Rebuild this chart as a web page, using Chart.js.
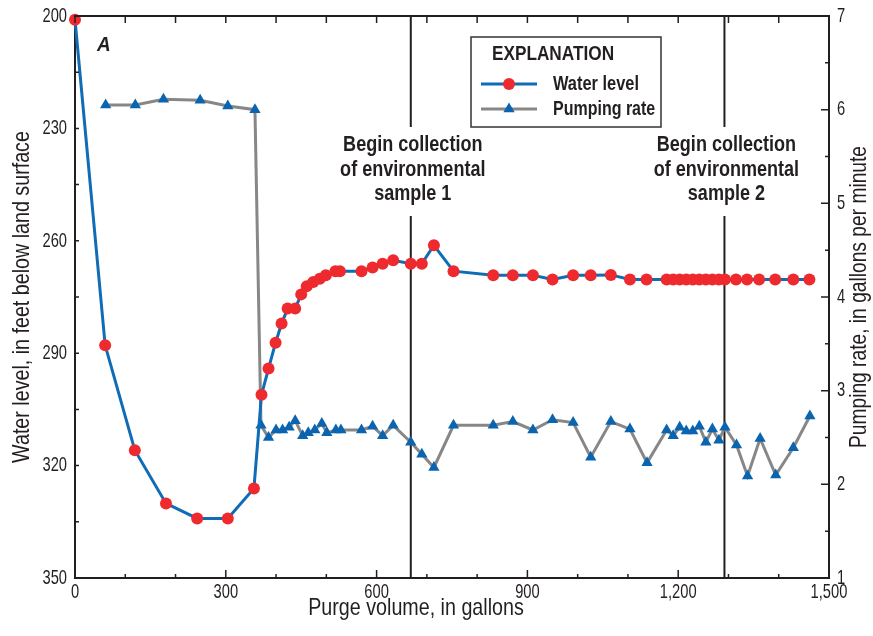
<!DOCTYPE html>
<html>
<head>
<meta charset="utf-8">
<script src="https://cdn.jsdelivr.net/npm/chart.js@4.4.0/dist/chart.umd.min.js"></script>
<style>
  body { margin: 0; background: #fff; }
  #wrap { width: 873px; height: 636px; position: relative; }
</style>
</head>
<body>
<div id="wrap"><canvas id="myChart"></canvas></div>
<script>
// purge volume (gallons) and water level (feet below land surface)
var waterGal = [0, 60, 119, 181, 243, 304, 356,
  371, 385, 399, 411, 423, 438, 450, 461, 474, 487, 499, 518, 527,
  570, 592, 612, 633, 668, 690, 714, 753,
  832, 871, 911, 950, 991, 1026, 1066, 1104, 1137,
  1177, 1190, 1203, 1216, 1229, 1242, 1255, 1268, 1281, 1293,
  1315, 1337, 1361, 1393, 1429, 1461];
var waterLevel = [201, 287.9, 315.9, 330.1, 334.1, 334.1, 326.1,
  301.1, 294.1, 287.2, 282.1, 278.1, 278.1, 274.3, 272.1, 271.0, 270.1, 269.2, 268.1, 268.1,
  268.1, 267.1, 266.1, 265.2, 266.1, 266.1, 261.2, 268.1,
  269.2, 269.2, 269.2, 270.3, 269.2, 269.2, 269.1, 270.3, 270.3,
  270.3, 270.3, 270.3, 270.3, 270.3, 270.3, 270.3, 270.3, 270.3, 270.3,
  270.3, 270.3, 270.3, 270.3, 270.3, 270.3];

// purge volume (gallons) and pumping rate (gallons per minute)
var pumpGal = [61, 120, 176, 249, 304, 358,
  370, 385, 400, 413, 426, 438, 453, 464, 477, 491, 501, 519, 529,
  570, 592, 612, 633, 668, 690, 714, 753,
  832, 871, 911, 950, 991, 1026, 1066, 1104, 1138,
  1177, 1190, 1203, 1216, 1229, 1242, 1255, 1268, 1281, 1293,
  1316, 1338, 1363, 1394, 1429, 1462];
var pumpRate = [6.05, 6.05, 6.11, 6.10, 6.04, 6.00,
  2.63, 2.50, 2.58, 2.58, 2.61, 2.68, 2.52, 2.55, 2.58, 2.65, 2.55, 2.58, 2.58,
  2.58, 2.62, 2.52, 2.63, 2.45, 2.32, 2.18, 2.63,
  2.63, 2.67, 2.58, 2.69, 2.66, 2.29, 2.67, 2.59, 2.23,
  2.58, 2.52, 2.61, 2.57, 2.57, 2.62, 2.45, 2.59, 2.47, 2.61,
  2.42, 2.09, 2.49, 2.10, 2.39, 2.73];

// axis tick values (labels are formatted from these)
var galTicks = [0, 300, 600, 900, 1200, 1500];
var levelTicks = [200, 230, 260, 290, 320, 350];
var rateTicks = [1, 2, 3, 4, 5, 6, 7];

// sample collection markers
var sampleGal = [668, 1292];
var sampleText = [
  ['Begin collection', 'of environmental', 'sample 1'],
  ['Begin collection', 'of environmental', 'sample 2']
];

var ink = '#231f20';
var lineBlue = '#0f6cb6';
var dotRed = '#ee2a2e';
var triBlue = '#0a64b0';
var gray = '#878787';
var sans = '"Liberation Sans", Arial, sans-serif';

// fake a condensed face by squeezing the text horizontally
function condText(ctx, text, x, y, sx) {
  ctx.save();
  ctx.translate(x, y);
  ctx.scale(sx, 1);
  ctx.fillText(text, 0, 0);
  ctx.restore();
}

function triangle(ctx, x, y, r) {
  ctx.beginPath();
  ctx.moveTo(x, y - r);
  ctx.lineTo(x + r * Math.sqrt(3) / 2, y + r / 2);
  ctx.lineTo(x - r * Math.sqrt(3) / 2, y + r / 2);
  ctx.closePath();
  ctx.fill();
}

var decor = {
  id: 'decor',
  beforeDatasetsDraw: function (chart) {
    var ctx = chart.ctx, a = chart.chartArea;
    ctx.save();
    ctx.strokeStyle = ink;
    ctx.lineWidth = 2;
    sampleGal.forEach(function (g) {
      var x = chart.scales.x.getPixelForValue(g);
      ctx.beginPath();
      ctx.moveTo(x, a.top); ctx.lineTo(x, 127);
      ctx.moveTo(x, 216); ctx.lineTo(x, a.bottom);
      ctx.stroke();
    });
    ctx.restore();
  },
  afterDraw: function (chart) {
    var ctx = chart.ctx, a = chart.chartArea, s = chart.scales;
    ctx.save();
    ctx.strokeStyle = ink;
    ctx.fillStyle = ink;

    // frame top
    ctx.lineWidth = 2;
    ctx.beginPath();
    ctx.moveTo(a.left - 1, a.top); ctx.lineTo(a.right + 1, a.top);
    ctx.stroke();

    // inward ticks
    ctx.lineWidth = 1.5;
    ctx.beginPath();
    for (var v = 0; v <= 1500; v += 100) {
      var x = s.x.getPixelForValue(v);
      var len = v % 300 === 0 ? 8 : 4;
      ctx.moveTo(x, a.bottom); ctx.lineTo(x, a.bottom - len);
      ctx.moveTo(x, a.top); ctx.lineTo(x, a.top + 7);
    }
    for (var w = 200; w <= 350; w += 15) {
      var y = s.y.getPixelForValue(w);
      ctx.moveTo(a.left, y); ctx.lineTo(a.left + (w % 30 === 0 ? 8 : 4), y);
    }
    for (var r = 1; r <= 7; r += 0.5) {
      var y2 = s.y2.getPixelForValue(r);
      ctx.moveTo(a.right, y2); ctx.lineTo(a.right - (r % 1 === 0 ? 8 : 4), y2);
    }
    ctx.stroke();

    // tick labels
    ctx.font = '21px ' + sans;
    ctx.textBaseline = 'middle';
    ctx.textAlign = 'center';
    galTicks.forEach(function (g) {
      condText(ctx, g.toLocaleString('en-US'), s.x.getPixelForValue(g), a.bottom + 14, 0.7);
    });
    ctx.textAlign = 'right';
    levelTicks.forEach(function (l) {
      condText(ctx, String(l), a.left - 8, s.y.getPixelForValue(l), 0.7);
    });
    ctx.textAlign = 'left';
    rateTicks.forEach(function (q) {
      condText(ctx, String(q), a.right + 8, s.y2.getPixelForValue(q), 0.7);
    });

    // annotations
    ctx.textAlign = 'center';
    ctx.font = 'bold 22px ' + sans;
    sampleGal.forEach(function (g, i) {
      var x = s.x.getPixelForValue(g) + 2;
      sampleText[i].forEach(function (t, k) {
        condText(ctx, t, x, 145 + k * 24.5, 0.82);
      });
    });

    // panel letter
    ctx.textAlign = 'left';
    ctx.font = 'italic bold 21px ' + sans;
    condText(ctx, 'A', 97, 45, 0.9);

    // axis titles
    ctx.font = '24px ' + sans;
    ctx.textAlign = 'center';
    condText(ctx, 'Purge volume, in gallons', 416, 608, 0.82);
    ctx.save();
    ctx.translate(22, (a.top + a.bottom) / 2);
    ctx.rotate(-Math.PI / 2);
    condText(ctx, 'Water level, in feet below land surface', 0, 0, 0.82);
    ctx.restore();
    ctx.save();
    ctx.translate(859, (a.top + a.bottom) / 2);
    ctx.rotate(-Math.PI / 2);
    condText(ctx, 'Pumping rate, in gallons per minute', 0, 0, 0.8);
    ctx.restore();

    // explanation box
    ctx.fillStyle = '#fff';
    ctx.fillRect(471, 37, 190, 90);
    ctx.strokeStyle = '#333';
    ctx.lineWidth = 1.5;
    ctx.strokeRect(471, 37, 190, 90);
    ctx.fillStyle = ink;
    ctx.font = 'bold 21px ' + sans;
    condText(ctx, 'EXPLANATION', 553, 54, 0.82);
    ctx.lineWidth = 3;
    ctx.strokeStyle = lineBlue;
    ctx.beginPath(); ctx.moveTo(481, 84); ctx.lineTo(537, 84); ctx.stroke();
    ctx.fillStyle = dotRed;
    ctx.beginPath(); ctx.arc(509, 84, 6, 0, Math.PI * 2); ctx.fill();
    ctx.strokeStyle = gray;
    ctx.beginPath(); ctx.moveTo(481, 109); ctx.lineTo(537, 109); ctx.stroke();
    ctx.fillStyle = triBlue;
    triangle(ctx, 509, 109, 6.5);
    ctx.fillStyle = ink;
    ctx.textAlign = 'left';
    ctx.font = 'bold 20px ' + sans;
    condText(ctx, 'Water level', 553, 84, 0.82);
    condText(ctx, 'Pumping rate', 553, 109, 0.8);

    ctx.restore();
  }
};

var ctx = document.getElementById('myChart').getContext('2d');
var chart = new Chart(ctx, {
  type: 'line',
  data: {
    datasets: [{
      label: 'Water level',
      data: waterGal.map(function (g, i) { return {x: g, y: waterLevel[i]}; }),
      yAxisID: 'y',
      clip: false,
      borderColor: lineBlue,
      borderWidth: 3,
      pointStyle: 'circle',
      pointRadius: 6,
      pointBorderWidth: 0,
      pointBackgroundColor: dotRed,
      tension: 0
    }, {
      label: 'Pumping rate',
      data: pumpGal.map(function (g, i) { return {x: g, y: pumpRate[i]}; }),
      yAxisID: 'y2',
      borderColor: gray,
      borderWidth: 3,
      pointStyle: 'triangle',
      pointRadius: 6.5,
      pointBorderWidth: 0,
      pointBackgroundColor: triBlue,
      tension: 0
    }]
  },
  options: {
    responsive: true,
    maintainAspectRatio: false,
    animation: false,
    layout: { padding: { top: 16, left: 0, right: 0, bottom: 0 } },
    plugins: { legend: { display: false }, tooltip: { enabled: false } },
    scales: {
      x: {
        type: 'linear', position: 'bottom',
        min: galTicks[0], max: galTicks[galTicks.length - 1],
        grid: { display: false },
        border: { display: true, color: ink, width: 2 },
        ticks: { display: false, stepSize: 300 },
        afterFit: function (scale) { scale.height = 58; }
      },
      y: {
        type: 'linear', position: 'left', reverse: true,
        min: levelTicks[0], max: levelTicks[levelTicks.length - 1],
        grid: { display: false },
        border: { display: true, color: ink, width: 2 },
        ticks: { display: false, stepSize: 30 },
        afterFit: function (scale) { scale.width = 75; }
      },
      y2: {
        type: 'linear', position: 'right',
        min: rateTicks[0], max: rateTicks[rateTicks.length - 1],
        grid: { display: false },
        border: { display: true, color: ink, width: 2 },
        ticks: { display: false, stepSize: 1 },
        afterFit: function (scale) { scale.width = 44; }
      }
    }
  },
  plugins: [decor]
});
</script>
</body>
</html>
